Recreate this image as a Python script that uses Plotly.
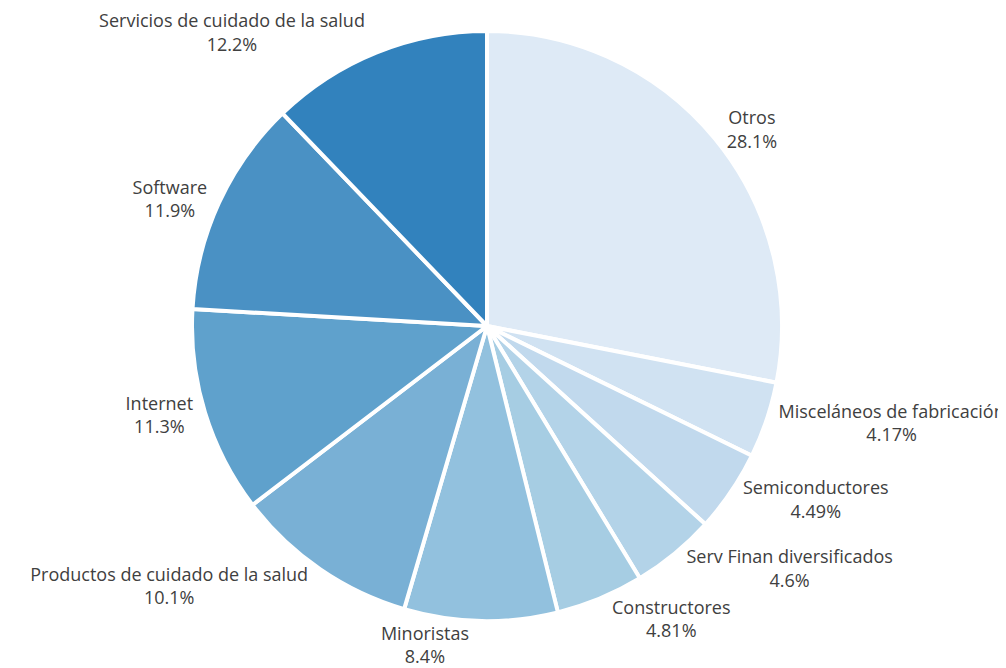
import plotly.graph_objects as go

labels = ["Otros", "Misceláneos de fabricación", "Semiconductores", "Serv Finan diversificados",
          "Constructores", "Minoristas", "Productos de cuidado de la salud", "Internet",
          "Software", "Servicios de cuidado de la salud"]
values = [28.1, 4.17, 4.49, 4.6, 4.81, 8.4, 10.1, 11.3, 11.9, 12.2]
colors = ["#deeaf6", "#d0e2f2", "#c1d9ed", "#b3d3e8", "#a6cde3", "#92c1de",
          "#79b0d5", "#5fa1cc", "#4a91c4", "#3282bd"]

fig = go.Figure(go.Pie(
    labels=labels,
    values=values,
    sort=False,
    direction="clockwise",
    rotation=0,
    marker=dict(colors=colors, line=dict(color="white", width=4)),
    textposition="outside",
    texttemplate="%{label}<br>%{value}%",
    textfont=dict(family="Open Sans", size=18, color="#404040"),
    automargin=False,
    hoverinfo="label+value",
    showlegend=False,
    domain=dict(x=[0.1829, 0.7694], y=[0.0823, 0.9656]),
))
fig.update_layout(
    width=1006, height=668,
    margin=dict(l=0, r=0, t=0, b=0, pad=0, autoexpand=False),
    paper_bgcolor="white",
    plot_bgcolor="white",
)
fig.write_html("out.html")
